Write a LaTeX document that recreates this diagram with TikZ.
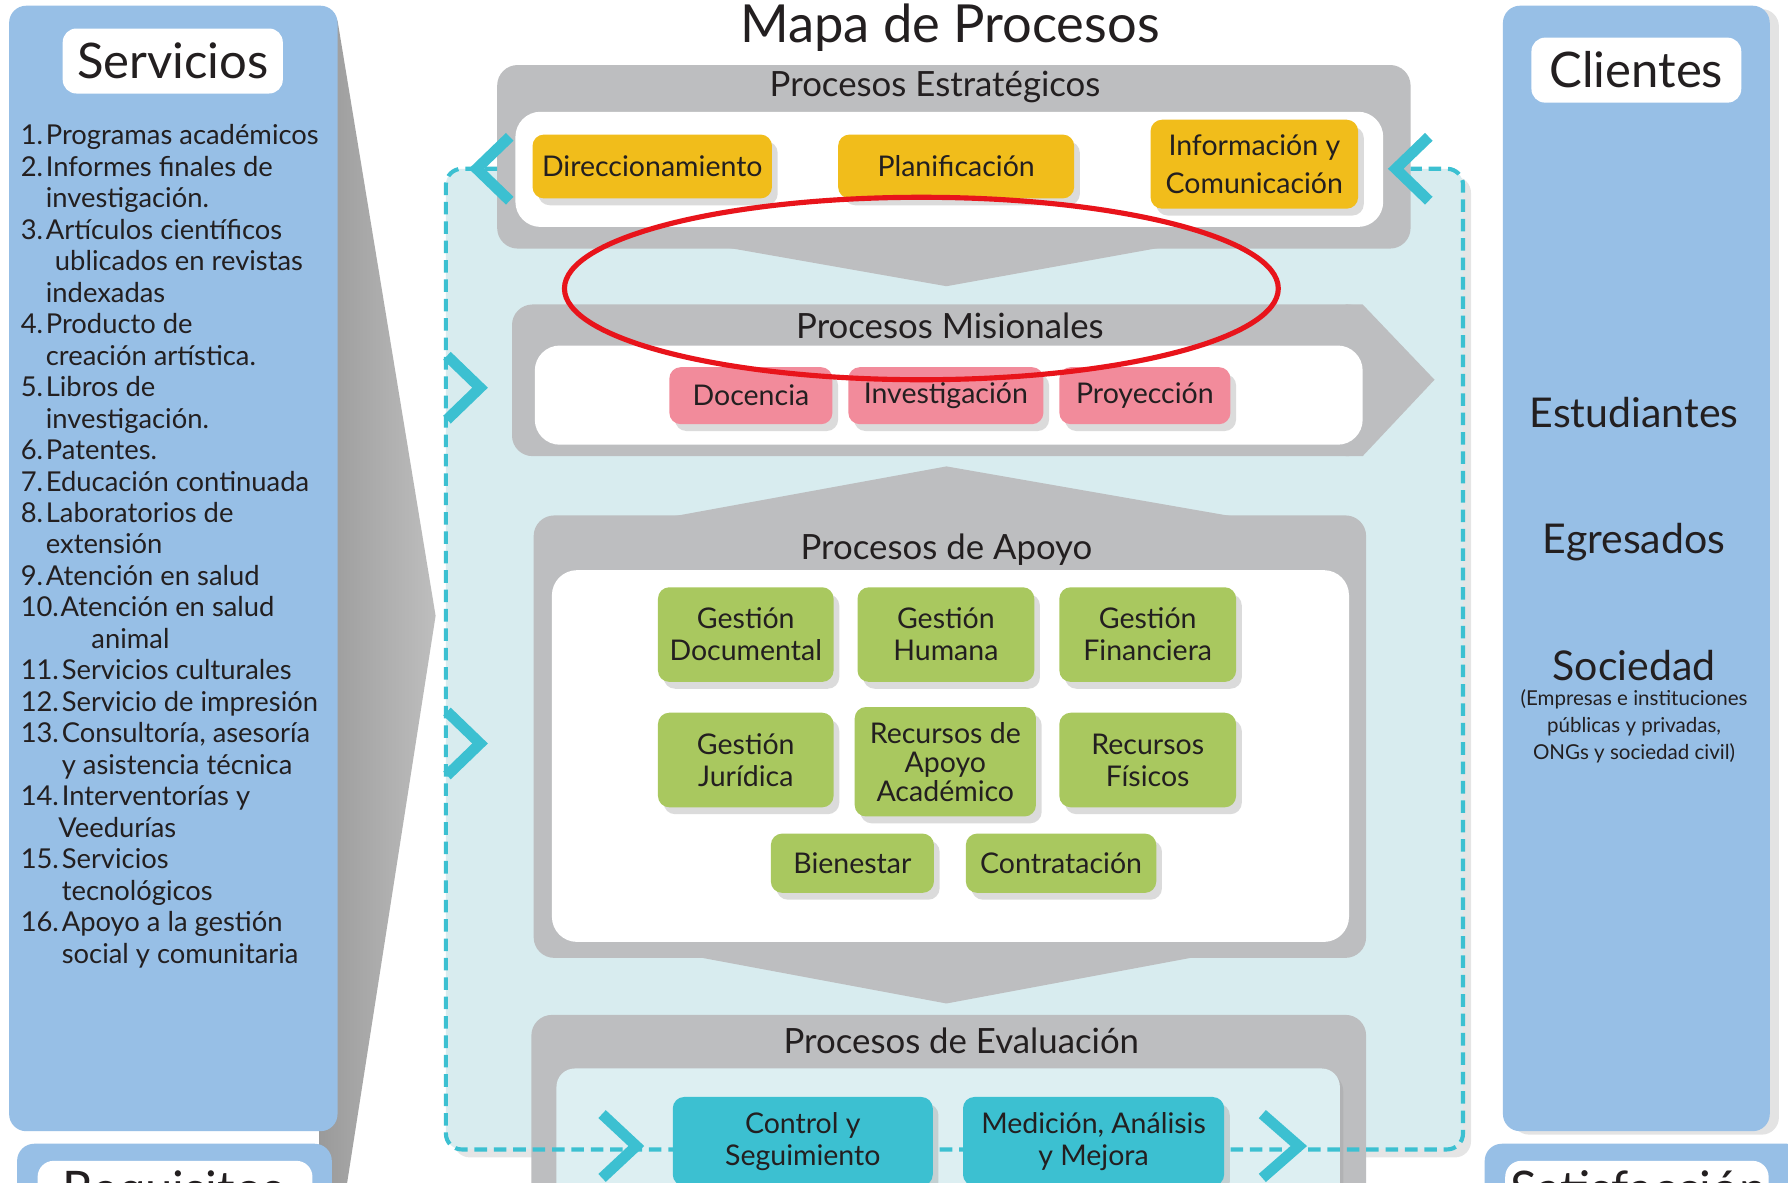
\documentclass[tikz,border=0pt]{standalone}
\usepackage{fontspec}
\setmainfont{Lato}
\usetikzlibrary{shadows}
\definecolor{panelblue}{HTML}{97BFE6}
\definecolor{procgrey}{HTML}{BDBEC0}
\definecolor{bgcyan}{HTML}{D8ECEF}
\definecolor{evalinner}{HTML}{DDEFF2}
\definecolor{cyanline}{HTML}{3CC0D1}
\definecolor{stratyellow}{HTML}{F1BD1B}
\definecolor{mispink}{HTML}{F28B9B}
\definecolor{supgreen}{HTML}{A9C85F}
\definecolor{evalcyan}{HTML}{3CC0D1}
\definecolor{txt}{HTML}{231F20}
\definecolor{arrowgreyA}{HTML}{9A9A9A}
\definecolor{arrowgreyB}{HTML}{BEBEBE}
\definecolor{ellred}{HTML}{E8141B}
\tikzset{
  procbox/.style={rounded corners=10pt, align=center, text=txt,
    font=\fontsize{25}{28}\selectfont, inner sep=0pt,
    drop shadow={opacity=0.28, shadow xshift=5pt, shadow yshift=-6pt}},
  ybox/.style={procbox, fill=stratyellow},
  pbox/.style={procbox, fill=mispink},
  gbox/.style={procbox, fill=supgreen},
  cbox/.style={procbox, fill=evalcyan},
  chev/.style={draw=cyanline, line width=9.5pt, miter limit=10},
  greycont/.style={fill=procgrey, rounded corners=18pt},
  whiteinner/.style={fill=white, rounded corners=22pt},
  sectitle/.style={font=\fontsize{30.5}{34}\selectfont, text=txt, inner sep=0pt, anchor=base},
  listtxt/.style={anchor=base west, font=\fontsize{24}{27}\selectfont, text=txt, inner sep=0pt},
  clientlbl/.style={font=\fontsize{36}{40}\selectfont, text=txt, inner sep=0pt, anchor=base},
  smalllbl/.style={font=\fontsize{18}{20}\selectfont, text=txt, inner sep=0pt, anchor=base},
  headlbl/.style={fill=white, rounded corners=12pt, font=\fontsize{43}{48}\selectfont, text=txt, inner sep=0pt},
  bluepanel/.style={fill=panelblue, rounded corners=15pt, inner sep=0pt},
}
\begin{document}
\begin{tikzpicture}[x=1pt,y=-1pt]
\useasboundingbox (0,0) rectangle (1568,1037);
\fill[white] (0,0) rectangle (1568,1037);
\clip (0,0) rectangle (1568,1037);

% grey arrow leaving the services panel
\shade[left color=arrowgreyA, right color=arrowgreyB] (280,18) -- (296,18) -- (382,540) -- (304,1040) -- (280,1040) -- cycle;

% left panel
\node[bluepanel, minimum width=288pt, minimum height=987pt] (servpanel) at (152,498.5) {};
\node[headlbl, minimum width=193pt, minimum height=57pt] (servlbl) at (151.5,53.5) {Servicios};

% services list
\node[listtxt] (n1) at (18,127) {1.};
\node[listtxt] (t1) at (40,127) {Programas académicos};
\node[listtxt] (n2) at (18,154.6) {2.};
\node[listtxt] (t2) at (40,154.6) {Informes finales de};
\node[listtxt] (t2b) at (40,182.2) {investigación.};
\node[listtxt] (n3) at (18,209.8) {3.};
\node[listtxt] (t3) at (40,209.8) {Artículos científicos};
\node[listtxt] (t3b) at (48,237.4) {ublicados en revistas};
\node[listtxt] (t3c) at (40,265) {indexadas};
\node[listtxt] (n4) at (18,292.6) {4.};
\node[listtxt] (t4) at (40,292.6) {Producto de};
\node[listtxt] (t4b) at (40,320.2) {creación artística.};
\node[listtxt] (n5) at (18,347.8) {5.};
\node[listtxt] (t5) at (40,347.8) {Libros de};
\node[listtxt] (t5b) at (40,375.4) {investigación.};
\node[listtxt] (n6) at (18,403) {6.};
\node[listtxt] (t6) at (40,403) {Patentes.};
\node[listtxt] (n7) at (18,430.6) {7.};
\node[listtxt] (t7) at (40,430.6) {Educación continuada};
\node[listtxt] (n8) at (18,458.2) {8.};
\node[listtxt] (t8) at (40,458.2) {Laboratorios de};
\node[listtxt] (t8b) at (40,485.8) {extensión};
\node[listtxt] (n9) at (18,513.4) {9.};
\node[listtxt] (t9) at (40,513.4) {Atención en salud};
\node[listtxt] (n10) at (18,541) {10.};
\node[listtxt] (t10) at (53,541) {Atención en salud};
\node[listtxt] (t10b) at (80,568.6) {animal};
\node[listtxt] (n11) at (18,596.2) {11.};
\node[listtxt] (t11) at (54,596.2) {Servicios culturales};
\node[listtxt] (n12) at (18,623.8) {12.};
\node[listtxt] (t12) at (54,623.8) {Servicio de impresión};
\node[listtxt] (n13) at (18,651.4) {13.};
\node[listtxt] (t13) at (54,651.4) {Consultoría, asesoría};
\node[listtxt] (t13b) at (54,679) {y asistencia técnica};
\node[listtxt] (n14) at (18,706.6) {14.};
\node[listtxt] (t14) at (54,706.6) {Interventorías y};
\node[listtxt] (t14b) at (51,734.2) {Veedurías};
\node[listtxt] (n15) at (18,761.8) {15.};
\node[listtxt] (t15) at (54,761.8) {Servicios};
\node[listtxt] (t15b) at (54,789.4) {tecnológicos};
\node[listtxt] (n16) at (18,817) {16.};
\node[listtxt] (t16) at (54,817) {Apoyo a la gestión};
\node[listtxt] (t16b) at (54,844.6) {social y comunitaria};

% lower left box (cut by the picture's lower edge, as in the reference)
\node[bluepanel, minimum width=276pt, minimum height=80pt] (reqbox) at (153,1043) {};
\node[fill=white, rounded corners=14pt, inner sep=0pt, minimum width=241pt, minimum height=60pt] (reqinner) at (153.5,1048) {};
\node[font=\fontsize{43}{48}\selectfont, text=txt, anchor=base west, inner sep=0pt] (reqtxt) at (55,1058) {Requisitos};

% right panel
\node[bluepanel, minimum width=234pt, minimum height=987pt,
  drop shadow={opacity=0.22, shadow xshift=8pt, shadow yshift=-3pt}] (clipanel) at (1435,498.5) {};
\node[headlbl, minimum width=184pt, minimum height=57pt] (clilbl) at (1435,61.5) {Clientes};
\node[clientlbl] (est) at (1433,375) {Estudiantes};
\node[clientlbl] (egr) at (1433,485) {Egresados};
\node[clientlbl] (soc) at (1433,597) {Sociedad};
\node[smalllbl] (soc1) at (1433,619) {(Empresas e instituciones};
\node[smalllbl] (soc2) at (1433,642.5) {públicas y privadas,};
\node[smalllbl] (soc3) at (1433,666) {ONGs y sociedad civil)};

% lower right box (cut by the picture's lower edge, as in the reference)
\node[bluepanel, minimum width=280pt, minimum height=80pt,
  drop shadow={opacity=0.22, shadow xshift=6pt, shadow yshift=-3pt}] (satbox) at (1442,1043) {};
\node[fill=white, rounded corners=14pt, inner sep=0pt, minimum width=231pt, minimum height=60pt] (satinner) at (1435.5,1048) {};
\node[font=\fontsize{43}{48}\selectfont, text=txt, anchor=base west, inner sep=0pt] (sattxt) at (1324,1058) {Satisfacción};

% central light region
\path[fill=bgcyan, rounded corners=14pt,
  drop shadow={opacity=0.2, shadow xshift=7pt, shadow yshift=-7pt}] (391,148) rectangle (1283,1008);

% title
\node[font=\fontsize{46}{50}\selectfont, text=txt, anchor=base, inner sep=0pt] (title) at (833,37) {Mapa de Procesos};

% strategic processes
\fill[procgrey] (620,214) -- (830,251) -- (1035,214) -- cycle;
\fill[greycont] (436,57) rectangle (1237,218);
\fill[whiteinner] (452,98) rectangle (1213,199);
\node[sectitle] (esttitle) at (820,85) {Procesos Estratégicos};
\node[ybox, minimum width=210pt, minimum height=56pt] (dir) at (572,146) {Direccionamiento};
\node[ybox, minimum width=207pt, minimum height=56pt] (plan) at (838.5,146) {Planificación};
\node[ybox, minimum width=182pt, minimum height=78pt, font=\fontsize{25}{33}\selectfont] (info) at (1100,144) {Información y\\Comunicación};

% missional processes
\fill[procgrey, rounded corners=18pt] (449,267) rectangle (1200,400);
\fill[procgrey] (1180,267) -- (1195,267) -- (1258,333) -- (1195,400) -- (1180,400) -- cycle;
\fill[whiteinner] (469,303) rectangle (1195,390);
\node[sectitle] (mistitle) at (833,297) {Procesos Misionales};
\node[pbox, minimum width=143pt, minimum height=50pt] (doc) at (658.5,347) {Docencia};
\node[pbox, minimum width=171pt, minimum height=50pt] (inv) at (829.5,347) {Investigación};
\node[pbox, minimum width=150pt, minimum height=50pt] (proy) at (1004,347) {Proyección};

% support processes
\fill[procgrey] (573,456) -- (830,409) -- (1099,456) -- cycle;
\fill[greycont] (468,452) rectangle (1198,840);
\fill[procgrey] (589,835) -- (830,880) -- (1071,835) -- cycle;
\fill[whiteinner] (484,500) rectangle (1183,826);
\node[sectitle] (apotitle) at (830,491) {Procesos de Apoyo};
\node[gbox, minimum width=154pt, minimum height=83pt] (gdoc) at (654,556.5) {Gestión\\Documental};
\node[gbox, minimum width=155pt, minimum height=83pt] (ghum) at (829.5,556.5) {Gestión\\Humana};
\node[gbox, minimum width=155pt, minimum height=83pt] (gfin) at (1006.5,556.5) {Gestión\\Financiera};
\node[gbox, minimum width=154pt, minimum height=83pt] (gjur) at (654,666.5) {Gestión\\Jurídica};
\node[gbox, minimum width=159pt, minimum height=96pt, font=\fontsize{25}{25.5}\selectfont] (recap) at (829,668) {Recursos de\\Apoyo\\Académico};
\node[gbox, minimum width=155pt, minimum height=83pt] (recfis) at (1006.5,666.5) {Recursos\\Físicos};
\node[gbox, minimum width=143pt, minimum height=52pt] (bien) at (747.5,757) {Bienestar};
\node[gbox, minimum width=167pt, minimum height=52pt] (contr) at (930.5,757) {Contratación};

% evaluation processes
\fill[greycont] (466,890) rectangle (1198,1090);
\path[fill=evalinner, rounded corners=16pt,
  drop shadow={opacity=0.18, shadow xshift=3pt, shadow yshift=-4pt}] (488,937) rectangle (1175,1090);
\node[sectitle] (evatitle) at (843,924) {Procesos de Evaluación};

% dashed outline of the central region
\draw[cyanline, line width=3.6pt, dash pattern=on 11pt off 6pt, rounded corners=14pt]
  (436,148) -- (391,148) -- (391,1008) -- (1283,1008) -- (1283,148) -- (1237,148);

\node[cbox, minimum width=228pt, minimum height=78pt] (ctrl) at (704,1001) {Control y\\Seguimiento};
\node[cbox, minimum width=229pt, minimum height=78pt] (med) at (959,1001) {Medición, Análisis\\y Mejora};

% chevrons
\draw[chev] (447,120) -- (418,148) -- (447,176);
\draw[chev] (1253,120) -- (1224,148) -- (1253,176);
\draw[chev] (392,312) -- (421,340) -- (392,368);
\draw[chev] (392,624) -- (421,652) -- (392,680);
\draw[chev] (528,977) -- (558,1005) -- (528,1033);
\draw[chev] (1107,977) -- (1139,1005) -- (1107,1033);

% red highlight ellipse
\draw[ellred, line width=4.5pt] (808,253) ellipse [x radius=313pt, y radius=80pt];
\end{tikzpicture}
\end{document}
